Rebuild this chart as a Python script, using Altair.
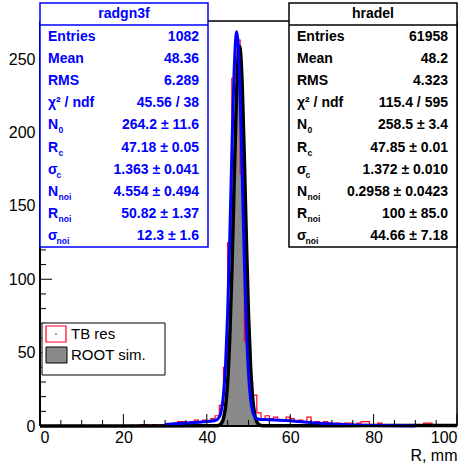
import altair as alt
import pandas as pd

# ---------------- data ----------------
# TB res histogram (1 mm bins, left edges 0..99)
tb_counts = [0]*24 + [
    1, 1, 0, 1, 0, 1, 1, 1, 2, 3,      # 24-33
    3, 2, 3, 4, 3, 4, 3, 5, 7, 14,     # 34-43
    40, 125, 237, 263, 172, 58, 30, 21, 9, 5,   # 44-53
    7, 5, 6, 4, 4, 6, 5, 3, 4, 3,      # 54-63
    6, 2, 3, 2, 3, 2, 1, 2, 1, 2,      # 64-73
    2, 1, 2, 3, 3, 1, 1, 2, 1, 1,      # 74-83
    1, 0, 1, 1, 0, 1, 0, 1, 2, 2,      # 84-93
    1, 0, 0, 0, 0, 0                   # 94-99
]
tb_edges = list(range(0, 100))

# ROOT sim histogram (0.5 mm bins)
sim_edges = [43.0, 43.5, 44.0, 44.5, 45.0, 45.5, 46.0, 46.5, 47.0, 47.5,
             48.0, 48.5, 49.0, 49.5, 50.0, 50.5, 51.0, 51.5, 52.0, 52.5, 53.0]
sim_counts = [1.5, 3.5, 9, 21, 44, 82, 132, 187, 233, 256,
              246, 208, 155, 100, 57, 29, 13, 5, 2, 1, 0]

# fit curve of TB res (blue)
blue_r = [30, 35, 40, 42, 43, 43.5, 44, 44.5, 45, 45.5, 46, 46.5, 47, 47.18, 47.5,
          48, 48.5, 49, 49.5, 50, 50.5, 51, 51.5, 52, 53, 55, 60, 65, 70, 75, 80, 85, 90]
blue_n = [1.1, 2.0, 3.1, 3.7, 6.1, 10.7, 21.3, 42.2, 77.5, 127.6, 185.7, 237.5, 266.2, 268.7, 261.3,
          224.9, 169.7, 112.8, 66.6, 35.6, 18.1, 9.8, 6.3, 5.1, 4.5, 4.3, 3.5, 2.3, 1.35, 0.67, 0.27, 0.1, 0.03]

# fit curve of ROOT sim (black)
black_r = [0, 20, 40, 42, 43, 43.5, 44, 44.5, 45, 45.5, 46, 46.5, 47, 47.5, 47.85,
           48, 48.5, 49, 49.5, 50, 50.5, 51, 51.5, 52, 52.5, 53, 54, 60, 80, 100]
black_n = [0.02, 0.06, 0.12, 0.13, 0.64, 1.8, 5.2, 13.2, 30.0, 59.8, 104.4, 159.5, 213.5, 250.4, 258.7,
           257.2, 231.3, 182.2, 125.7, 75.9, 40.2, 18.7, 7.7, 2.85, 1.0, 0.4, 0.17, 0.2, 0.27, 0.3]

x_major = [0, 20, 40, 60, 80, 100]
x_minor = [5, 10, 15, 25, 30, 35, 45, 50, 55, 65, 70, 75, 85, 90, 95]
y_major = [0, 50, 100, 150, 200, 250]
y_minor = [10, 20, 30, 40, 60, 70, 80, 90, 110, 120, 130, 140, 160, 170, 180, 190,
           210, 220, 230, 240, 260, 270]

box1_title = "radgn3f"
box1_main = ["Entries", "Mean", "RMS", "χ² / ndf", "N", "R", "σ", "N", "R", "σ"]
box1_sub = ["", "", "", "", "0", "c", "c", "noi", "noi", "noi"]
box1_vals = ["1082", "48.36", "6.289", "45.56 / 38", "264.2 ± 11.6", "47.18 ± 0.05",
             "1.363 ± 0.041", "4.554 ± 0.494", "50.82 ± 1.37", "12.3 ± 1.6"]

box2_title = "hradel"
box2_main = ["Entries", "Mean", "RMS", "χ² / ndf", "N", "R", "σ", "N", "R", "σ"]
box2_sub = ["", "", "", "", "0", "c", "c", "noi", "noi", "noi"]
box2_vals = ["61958", "48.2", "4.323", "115.4 / 595", "258.5 ± 3.4", "47.85 ± 0.01",
             "1.372 ± 0.010", "0.2958 ± 0.0423", "100 ± 85.0", "44.66 ± 7.18"]

legend_labels = ["TB res", "ROOT sim."]

# ---------------- chart ----------------
W, H = 417, 405
FONT = "Liberation Sans"
xs = alt.Scale(domain=[0, 100], nice=False, zero=False)
ys = alt.Scale(domain=[0, 276], nice=False, zero=True)
one = pd.DataFrame({"a": [0]})

x_axis = alt.Axis(values=x_major, ticks=False, domain=False, grid=False,
                  labelFontSize=16, labelFont=FONT, labelColor="black",
                  labelPadding=3, title="R, mm", titleFont=FONT,
                  titleFontSize=16, titleFontWeight="normal",
                  titleColor="black", titleAnchor="end", titlePadding=2)
y_axis = alt.Axis(values=y_major, ticks=False, domain=False, grid=False,
                  labelFontSize=16, labelFont=FONT, labelColor="black",
                  labelPadding=5, title=None)


def X(f):
    return alt.X(f, scale=xs, axis=x_axis, title="R, mm")


def Y(f):
    return alt.Y(f, scale=ys, axis=y_axis, title=None)


tb_df = pd.DataFrame({"r": tb_edges + [100], "n": tb_counts + [tb_counts[-1]]})
sim_df = pd.DataFrame({"r": sim_edges, "n": sim_counts})
blue_df = pd.DataFrame({"r": blue_r, "n": blue_n})
black_df = pd.DataFrame({"r": black_r, "n": black_n})

sim_layer = alt.Chart(sim_df).mark_area(interpolate="step-after", color="#8a8a8a").encode(
    x=X("r:Q"), y=Y("n:Q"))
tb_layer = alt.Chart(tb_df).mark_line(interpolate="step-after", color="#ff0020", strokeWidth=1.2).encode(
    x=X("r:Q"), y=Y("n:Q"))
black_layer = alt.Chart(black_df).mark_line(interpolate="monotone", color="black", strokeWidth=3.5).encode(
    x=X("r:Q"), y=Y("n:Q"))
blue_layer = alt.Chart(blue_df).mark_line(interpolate="monotone", color="#0000ff", strokeWidth=3).encode(
    x=X("r:Q"), y=Y("n:Q"))

# inward ticks
xt_maj = alt.Chart(pd.DataFrame({"r": x_major})).mark_rule(color="black", strokeWidth=1).encode(
    x=X("r:Q"), y=alt.value(H), y2=alt.value(H - 12))
xt_min = alt.Chart(pd.DataFrame({"r": x_minor})).mark_rule(color="black", strokeWidth=1).encode(
    x=X("r:Q"), y=alt.value(H), y2=alt.value(H - 6))
yt_maj = alt.Chart(pd.DataFrame({"n": y_major})).mark_rule(color="black", strokeWidth=1).encode(
    y=Y("n:Q"), x=alt.value(0), x2=alt.value(12))
yt_min = alt.Chart(pd.DataFrame({"n": y_minor})).mark_rule(color="black", strokeWidth=1).encode(
    y=Y("n:Q"), x=alt.value(0), x2=alt.value(6))


# frame
def frule(x1, x2, y1, y2, w=1.5):
    return alt.Chart(one).mark_rule(color="black", strokeWidth=w).encode(
        x=alt.value(x1), x2=alt.value(x2), y=alt.value(y1), y2=alt.value(y2))


frame = [frule(0, 0, 0, H, 2), frule(0, W, H, H, 2), frule(0, W, 0, 0, 1.5), frule(W, W, 0, H, 1.5)]


def stat_box(bx, color, title, mains, subs, vals):
    bw = 168
    top, bottom = -18, 226
    y0, step = 16, 22.1
    layers = []
    layers.append(alt.Chart(one).mark_rect(fill="white", stroke=color, strokeWidth=1.5).encode(
        x=alt.value(bx), x2=alt.value(bx + bw), y=alt.value(top), y2=alt.value(bottom)))
    layers.append(alt.Chart(one).mark_rule(color=color, strokeWidth=1.5).encode(
        x=alt.value(bx), x2=alt.value(bx + bw), y=alt.value(4), y2=alt.value(4)))
    layers.append(alt.Chart(pd.DataFrame({"t": [title]})).mark_text(
        font=FONT, fontSize=14, fontWeight="bold", color=color, align="center", baseline="middle").encode(
        text="t:N", x=alt.value(bx + bw / 2), y=alt.value(-7)))
    df = pd.DataFrame({"m": mains, "s": subs, "v": vals,
                       "py": [y0 + i * step for i in range(len(mains))]})
    layers.append(alt.Chart(df).mark_text(
        font=FONT, fontSize=14, fontWeight="bold", color=color, align="left", baseline="middle").encode(
        text="m:N", x=alt.value(bx + 8), y=alt.Y("py:Q", scale=None, axis=None)))
    layers.append(alt.Chart(df).mark_text(
        font=FONT, fontSize=14, fontWeight="bold", color=color, align="right", baseline="middle").encode(
        text="v:N", x=alt.value(bx + 159), y=alt.Y("py:Q", scale=None, axis=None)))
    sdf = df[df["s"] != ""].copy()
    sdf["sx"] = [bx + 8 + (8.5 if m == "σ" else 10.5) for m in sdf["m"]]
    sdf["sy"] = sdf["py"] + 5
    layers.append(alt.Chart(sdf).mark_text(
        font=FONT, fontSize=8.5, fontWeight="bold", color=color, align="left", baseline="middle").encode(
        text="s:N", x=alt.X("sx:Q", scale=None, axis=None), y=alt.Y("sy:Q", scale=None, axis=None)))
    return layers


box1 = stat_box(0, "#0000ff", box1_title, box1_main, box1_sub, box1_vals)
box2 = stat_box(W - 168, "black", box2_title, box2_main, box2_sub, box2_vals)

# legend
leg = []
leg.append(alt.Chart(one).mark_rect(fill="white", stroke="black", strokeWidth=1).encode(
    x=alt.value(2), x2=alt.value(125), y=alt.value(302), y2=alt.value(354)))
leg.append(alt.Chart(one).mark_rect(fill="white", stroke="#ff0020", strokeWidth=1.2).encode(
    x=alt.value(6), x2=alt.value(26), y=alt.value(305), y2=alt.value(321)))
leg.append(alt.Chart(one).mark_point(filled=True, color="black", size=3).encode(
    x=alt.value(16), y=alt.value(313)))
leg.append(alt.Chart(one).mark_rect(fill="#8a8a8a", stroke="black", strokeWidth=1).encode(
    x=alt.value(6), x2=alt.value(27), y=alt.value(326), y2=alt.value(342)))
leg.append(alt.Chart(pd.DataFrame({"t": legend_labels, "py": [313, 334]})).mark_text(
    font=FONT, fontSize=15, color="black", align="left", baseline="middle").encode(
    text="t:N", x=alt.value(31), y=alt.Y("py:Q", scale=None, axis=None)))

chart = alt.layer(
    sim_layer, tb_layer, black_layer, blue_layer,
    xt_maj, xt_min, yt_maj, yt_min, *frame, *box1, *box2, *leg
).properties(
    width=W, height=H,
    padding={"left": 40, "top": 21, "right": 15, "bottom": 40},
    autosize=alt.AutoSizeParams(type="none"),
).configure_view(stroke=None).configure(background="white")

chart.save("out.html", embed_options={"renderer": "svg", "actions": False})
